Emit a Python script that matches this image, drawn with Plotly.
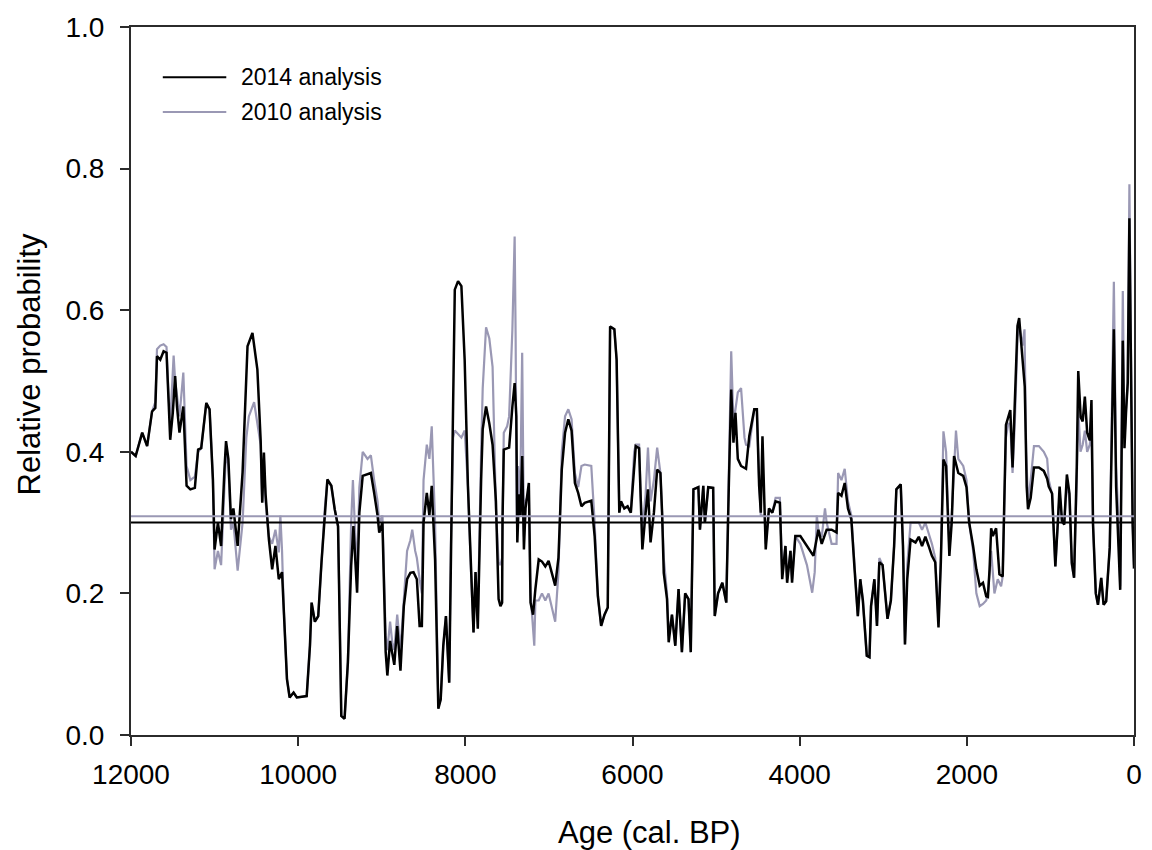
import plotly.graph_objects as go

# Relative probability through time (cal. BP), 2014 re-analysis vs 2010 analysis
age_2014 = [12000, 11944, 11866, 11807, 11748, 11709, 11689, 11650, 11610, 11575, 11551, 11531, 11500, 11472, 11450, 11420, 11374, 11350, 11335, 11290, 11236, 11197, 11160, 11099, 11060, 11020, 11000, 10960, 10922, 10882, 10863, 10835, 10804, 10775, 10724, 10665, 10606, 10547, 10527, 10488, 10449, 10430, 10410, 10390, 10350, 10311, 10272, 10232, 10193, 10173, 10134, 10102, 10055, 10016, 9898, 9859, 9839, 9800, 9760, 9721, 9681, 9650, 9603, 9563, 9523, 9504, 9484, 9445, 9405, 9366, 9339, 9295, 9268, 9228, 9170, 9130, 9091, 9050, 9030, 8992, 8953, 8933, 8900, 8874, 8850, 8815, 8776, 8736, 8697, 8658, 8620, 8580, 8547, 8520, 8500, 8461, 8430, 8402, 8362, 8323, 8295, 8264, 8232, 8193, 8173, 8146, 8126, 8087, 8047, 8008, 7969, 7929, 7902, 7878, 7851, 7811, 7792, 7752, 7713, 7674, 7634, 7602, 7580, 7560, 7555, 7540, 7476, 7437, 7410, 7390, 7378, 7358, 7339, 7320, 7299, 7280, 7240, 7220, 7190, 7162, 7122, 7083, 7043, 7004, 6965, 6925, 6886, 6846, 6807, 6768, 6729, 6689, 6650, 6611, 6572, 6493, 6453, 6414, 6375, 6335, 6296, 6268, 6217, 6190, 6158, 6138, 6098, 6059, 6020, 5980, 5961, 5921, 5902, 5882, 5843, 5815, 5784, 5744, 5705, 5666, 5646, 5626, 5587, 5567, 5528, 5488, 5449, 5409, 5370, 5330, 5303, 5271, 5212, 5193, 5153, 5134, 5094, 5035, 5016, 4976, 4925, 4878, 4846, 4819, 4792, 4768, 4740, 4701, 4642, 4603, 4543, 4512, 4485, 4465, 4445, 4418, 4406, 4367, 4327, 4288, 4237, 4209, 4170, 4150, 4110, 4091, 4052, 3992, 3913, 3835, 3776, 3736, 3677, 3618, 3559, 3540, 3500, 3461, 3422, 3382, 3343, 3304, 3275, 3244, 3197, 3165, 3146, 3106, 3075, 3047, 3008, 2949, 2909, 2870, 2843, 2791, 2764, 2740, 2713, 2673, 2614, 2575, 2536, 2496, 2457, 2418, 2378, 2339, 2311, 2280, 2248, 2209, 2181, 2153, 2102, 2043, 2004, 1972, 1925, 1886, 1846, 1807, 1768, 1748, 1728, 1709, 1689, 1650, 1610, 1571, 1532, 1504, 1480, 1453, 1426, 1394, 1374, 1335, 1307, 1284, 1268, 1236, 1197, 1138, 1079, 1039, 1020, 980, 941, 913, 890, 862, 835, 803, 772, 744, 717, 685, 667, 638, 614, 588, 560, 529, 509, 490, 457, 431, 392, 364, 333, 290, 262, 241, 214, 195, 165, 134, 114, 94, 75, 55, 35, 16, 0]
prob_2014 = [0.400, 0.394, 0.427, 0.408, 0.457, 0.462, 0.535, 0.530, 0.542, 0.540, 0.474, 0.417, 0.455, 0.507, 0.464, 0.427, 0.464, 0.399, 0.352, 0.347, 0.349, 0.403, 0.405, 0.469, 0.460, 0.361, 0.262, 0.300, 0.267, 0.375, 0.415, 0.390, 0.305, 0.320, 0.267, 0.371, 0.549, 0.568, 0.549, 0.516, 0.417, 0.328, 0.399, 0.340, 0.276, 0.234, 0.267, 0.220, 0.230, 0.173, 0.079, 0.053, 0.060, 0.053, 0.055, 0.126, 0.187, 0.160, 0.168, 0.244, 0.314, 0.361, 0.352, 0.319, 0.295, 0.173, 0.027, 0.023, 0.103, 0.239, 0.295, 0.201, 0.314, 0.366, 0.368, 0.370, 0.342, 0.310, 0.286, 0.300, 0.117, 0.084, 0.133, 0.113, 0.099, 0.154, 0.091, 0.182, 0.220, 0.229, 0.230, 0.220, 0.154, 0.154, 0.300, 0.342, 0.310, 0.352, 0.248, 0.037, 0.050, 0.126, 0.168, 0.074, 0.267, 0.469, 0.629, 0.641, 0.634, 0.530, 0.352, 0.220, 0.145, 0.230, 0.150, 0.361, 0.432, 0.464, 0.440, 0.410, 0.330, 0.192, 0.182, 0.187, 0.305, 0.403, 0.406, 0.464, 0.497, 0.450, 0.272, 0.340, 0.310, 0.394, 0.262, 0.320, 0.356, 0.187, 0.170, 0.206, 0.248, 0.245, 0.238, 0.246, 0.230, 0.211, 0.250, 0.375, 0.427, 0.446, 0.430, 0.356, 0.342, 0.323, 0.328, 0.331, 0.281, 0.196, 0.154, 0.170, 0.180, 0.577, 0.573, 0.530, 0.314, 0.330, 0.320, 0.323, 0.314, 0.380, 0.408, 0.405, 0.338, 0.262, 0.314, 0.347, 0.272, 0.314, 0.375, 0.370, 0.314, 0.229, 0.192, 0.131, 0.170, 0.126, 0.206, 0.117, 0.200, 0.192, 0.117, 0.347, 0.350, 0.290, 0.352, 0.300, 0.350, 0.349, 0.168, 0.200, 0.215, 0.187, 0.361, 0.488, 0.413, 0.455, 0.390, 0.380, 0.376, 0.422, 0.460, 0.460, 0.352, 0.314, 0.422, 0.314, 0.262, 0.320, 0.314, 0.330, 0.328, 0.220, 0.267, 0.215, 0.260, 0.215, 0.281, 0.281, 0.267, 0.253, 0.290, 0.270, 0.290, 0.290, 0.286, 0.342, 0.338, 0.356, 0.320, 0.305, 0.234, 0.168, 0.220, 0.190, 0.112, 0.110, 0.182, 0.220, 0.154, 0.244, 0.240, 0.164, 0.190, 0.267, 0.347, 0.354, 0.267, 0.128, 0.220, 0.276, 0.272, 0.280, 0.267, 0.280, 0.267, 0.253, 0.244, 0.152, 0.244, 0.389, 0.380, 0.253, 0.300, 0.394, 0.370, 0.366, 0.350, 0.300, 0.267, 0.234, 0.211, 0.215, 0.196, 0.195, 0.234, 0.292, 0.281, 0.292, 0.227, 0.224, 0.438, 0.449, 0.459, 0.378, 0.459, 0.578, 0.589, 0.535, 0.492, 0.351, 0.319, 0.335, 0.378, 0.378, 0.373, 0.362, 0.351, 0.341, 0.238, 0.297, 0.351, 0.303, 0.297, 0.368, 0.341, 0.243, 0.222, 0.378, 0.514, 0.449, 0.443, 0.478, 0.427, 0.416, 0.473, 0.297, 0.200, 0.184, 0.222, 0.184, 0.189, 0.265, 0.416, 0.573, 0.351, 0.297, 0.205, 0.557, 0.405, 0.459, 0.497, 0.730, 0.459, 0.297, 0.235]

age_2010 = [12000, 11944, 11866, 11807, 11748, 11709, 11689, 11650, 11610, 11575, 11551, 11531, 11490, 11472, 11450, 11420, 11374, 11350, 11335, 11290, 11236, 11197, 11160, 11099, 11060, 11020, 11000, 10960, 10922, 10882, 10863, 10835, 10804, 10775, 10724, 10665, 10620, 10590, 10560, 10527, 10488, 10449, 10430, 10410, 10390, 10350, 10311, 10272, 10232, 10213, 10193, 10173, 10134, 10102, 10055, 10016, 9898, 9859, 9839, 9800, 9760, 9721, 9681, 9650, 9603, 9563, 9523, 9504, 9484, 9445, 9405, 9366, 9345, 9320, 9295, 9268, 9228, 9170, 9130, 9091, 9050, 9030, 8992, 8953, 8933, 8900, 8874, 8850, 8815, 8776, 8736, 8697, 8658, 8635, 8600, 8580, 8547, 8520, 8500, 8461, 8430, 8402, 8362, 8323, 8295, 8264, 8232, 8193, 8173, 8146, 8126, 8087, 8047, 8008, 7969, 7929, 7902, 7878, 7851, 7811, 7792, 7752, 7713, 7674, 7634, 7602, 7580, 7560, 7555, 7540, 7500, 7476, 7437, 7410, 7398, 7385, 7370, 7345, 7320, 7299, 7280, 7240, 7220, 7190, 7175, 7162, 7122, 7083, 7043, 7004, 6965, 6925, 6886, 6846, 6807, 6768, 6729, 6689, 6650, 6611, 6572, 6493, 6453, 6414, 6375, 6335, 6296, 6268, 6217, 6190, 6158, 6138, 6098, 6059, 6020, 5980, 5961, 5921, 5902, 5882, 5843, 5815, 5784, 5744, 5705, 5666, 5646, 5626, 5587, 5567, 5528, 5488, 5449, 5409, 5370, 5330, 5303, 5271, 5212, 5193, 5153, 5134, 5094, 5035, 5016, 4976, 4925, 4878, 4846, 4819, 4792, 4768, 4740, 4701, 4660, 4642, 4603, 4543, 4512, 4485, 4465, 4445, 4418, 4406, 4367, 4327, 4288, 4237, 4209, 4170, 4150, 4110, 4091, 4052, 3992, 3913, 3870, 3850, 3820, 3795, 3776, 3736, 3697, 3677, 3618, 3559, 3540, 3500, 3461, 3422, 3382, 3343, 3304, 3275, 3244, 3197, 3165, 3146, 3106, 3075, 3047, 3008, 2949, 2909, 2870, 2843, 2791, 2764, 2740, 2713, 2673, 2614, 2575, 2536, 2496, 2457, 2418, 2378, 2339, 2311, 2280, 2248, 2209, 2181, 2130, 2102, 2043, 2004, 1972, 1925, 1886, 1846, 1807, 1768, 1748, 1728, 1709, 1670, 1630, 1590, 1571, 1532, 1504, 1480, 1453, 1426, 1394, 1374, 1335, 1310, 1290, 1268, 1236, 1197, 1138, 1079, 1039, 1020, 980, 941, 913, 890, 862, 835, 803, 772, 744, 717, 685, 667, 640, 614, 588, 560, 529, 509, 490, 457, 431, 392, 364, 333, 290, 262, 241, 214, 195, 165, 134, 114, 94, 75, 55, 35, 16, 0]
prob_2010 = [0.400, 0.394, 0.427, 0.408, 0.457, 0.470, 0.545, 0.550, 0.552, 0.548, 0.480, 0.440, 0.536, 0.500, 0.480, 0.450, 0.512, 0.420, 0.380, 0.360, 0.365, 0.400, 0.405, 0.469, 0.460, 0.361, 0.234, 0.260, 0.240, 0.350, 0.400, 0.380, 0.290, 0.300, 0.232, 0.300, 0.420, 0.450, 0.460, 0.470, 0.440, 0.410, 0.330, 0.390, 0.330, 0.280, 0.270, 0.290, 0.258, 0.310, 0.260, 0.180, 0.079, 0.053, 0.060, 0.053, 0.055, 0.126, 0.187, 0.160, 0.168, 0.250, 0.320, 0.360, 0.352, 0.319, 0.295, 0.173, 0.027, 0.023, 0.103, 0.300, 0.360, 0.290, 0.230, 0.350, 0.400, 0.390, 0.395, 0.360, 0.330, 0.300, 0.310, 0.140, 0.120, 0.160, 0.130, 0.120, 0.170, 0.120, 0.200, 0.260, 0.275, 0.290, 0.260, 0.250, 0.220, 0.200, 0.360, 0.410, 0.390, 0.436, 0.300, 0.040, 0.050, 0.126, 0.168, 0.074, 0.267, 0.420, 0.430, 0.425, 0.420, 0.430, 0.352, 0.220, 0.145, 0.230, 0.160, 0.400, 0.490, 0.576, 0.560, 0.520, 0.320, 0.244, 0.240, 0.250, 0.330, 0.427, 0.436, 0.450, 0.573, 0.704, 0.560, 0.300, 0.380, 0.330, 0.540, 0.280, 0.330, 0.340, 0.200, 0.150, 0.126, 0.190, 0.190, 0.200, 0.190, 0.200, 0.180, 0.160, 0.230, 0.400, 0.450, 0.460, 0.446, 0.370, 0.350, 0.380, 0.382, 0.380, 0.300, 0.196, 0.154, 0.170, 0.180, 0.577, 0.573, 0.530, 0.314, 0.330, 0.320, 0.323, 0.314, 0.400, 0.410, 0.410, 0.338, 0.290, 0.340, 0.406, 0.330, 0.360, 0.406, 0.370, 0.314, 0.250, 0.200, 0.140, 0.170, 0.126, 0.206, 0.117, 0.200, 0.192, 0.117, 0.347, 0.350, 0.290, 0.352, 0.300, 0.350, 0.349, 0.168, 0.200, 0.215, 0.187, 0.380, 0.542, 0.440, 0.460, 0.484, 0.490, 0.420, 0.410, 0.408, 0.460, 0.460, 0.360, 0.310, 0.310, 0.310, 0.270, 0.320, 0.314, 0.335, 0.335, 0.230, 0.267, 0.220, 0.260, 0.220, 0.281, 0.270, 0.240, 0.210, 0.201, 0.230, 0.310, 0.290, 0.280, 0.320, 0.300, 0.270, 0.270, 0.370, 0.360, 0.376, 0.330, 0.310, 0.234, 0.168, 0.220, 0.190, 0.112, 0.110, 0.182, 0.220, 0.154, 0.250, 0.240, 0.164, 0.190, 0.267, 0.347, 0.354, 0.267, 0.128, 0.240, 0.300, 0.300, 0.300, 0.290, 0.300, 0.285, 0.270, 0.250, 0.160, 0.250, 0.429, 0.400, 0.260, 0.310, 0.430, 0.390, 0.380, 0.360, 0.300, 0.260, 0.200, 0.182, 0.185, 0.190, 0.200, 0.230, 0.260, 0.200, 0.220, 0.210, 0.224, 0.420, 0.440, 0.440, 0.370, 0.440, 0.560, 0.580, 0.550, 0.573, 0.400, 0.330, 0.360, 0.408, 0.408, 0.400, 0.390, 0.360, 0.340, 0.238, 0.297, 0.340, 0.300, 0.300, 0.360, 0.330, 0.240, 0.222, 0.360, 0.460, 0.400, 0.410, 0.430, 0.400, 0.410, 0.430, 0.297, 0.200, 0.184, 0.222, 0.184, 0.189, 0.265, 0.450, 0.640, 0.380, 0.330, 0.210, 0.627, 0.420, 0.470, 0.500, 0.778, 0.470, 0.300, 0.240]

# Mean relative probability of each analysis
mean_2014 = 0.300
mean_2010 = 0.309

series_names = ["2014 analysis", "2010 analysis"]
x_ticks = [12000, 10000, 8000, 6000, 4000, 2000, 0]
x_tick_text = ["12000", "10000", "8000", "6000", "4000", "2000", "0"]
y_ticks = [0.0, 0.2, 0.4, 0.6, 0.8, 1.0]

BLACK = "#000000"
GREY = "#9a98b4"
AXIS = "#2b2b2b"
FONT = "Liberation Sans, Arial, Helvetica, sans-serif"

fig = go.Figure()

fig.add_trace(go.Scatter(
    x=age_2010, y=prob_2010, mode="lines", name=series_names[1],
    line=dict(color=GREY, width=2.2), showlegend=False,
))
fig.add_trace(go.Scatter(
    x=age_2014, y=prob_2014, mode="lines", name=series_names[0],
    line=dict(color=BLACK, width=2.5), showlegend=False,
))

# mean lines across the full record
fig.add_shape(type="line", xref="paper", x0=0, x1=1, yref="y", y0=mean_2010, y1=mean_2010,
              line=dict(color=GREY, width=2))
fig.add_shape(type="line", xref="paper", x0=0, x1=1, yref="y", y0=mean_2014, y1=mean_2014,
              line=dict(color=BLACK, width=2))

# key in the upper-left corner
legend_rows = [(series_names[0], BLACK, 0.929), (series_names[1], GREY, 0.880)]
for label, colour, ypos in legend_rows:
    fig.add_shape(type="line", xref="paper", yref="paper",
                  x0=0.0317, x1=0.0950, y0=ypos, y1=ypos,
                  line=dict(color=colour, width=2))
    fig.add_annotation(xref="paper", yref="paper", x=0.1078, y=ypos,
                       text=label, showarrow=False, xanchor="left", yanchor="middle",
                       font=dict(family=FONT, size=23, color="#000"))

fig.add_annotation(xref="paper", yref="paper", x=0.517, y=-0.138,
                   text="Age (cal. BP)", showarrow=False, xanchor="center", yanchor="middle",
                   font=dict(family=FONT, size=31, color="#000"))
fig.add_annotation(xref="paper", yref="paper", x=-0.101, y=0.523,
                   text="Relative probability", showarrow=False, textangle=-90,
                   xanchor="center", yanchor="middle",
                   font=dict(family=FONT, size=31, color="#000"))

fig.update_layout(
    width=1152, height=850,
    margin=dict(l=131, r=10, t=27, b=115),
    paper_bgcolor="white", plot_bgcolor="white",
    font=dict(family=FONT, size=28, color="#000"),
    showlegend=False,
)
fig.update_xaxes(
    range=[12000, 0], tickmode="array", tickvals=x_ticks, ticktext=x_tick_text,
    ticks="outside", ticklen=9, tickwidth=2, tickcolor=AXIS,
    showline=True, linecolor=AXIS, linewidth=2, mirror=True,
    showgrid=False, zeroline=False, ticklabelstandoff=4,
    tickfont=dict(family=FONT, size=28, color="#000"),
)
fig.update_yaxes(
    range=[0, 1.0], tickmode="array", tickvals=y_ticks, tickformat=".1f",
    ticks="outside", ticklen=9, tickwidth=2, tickcolor=AXIS,
    showline=True, linecolor=AXIS, linewidth=2, mirror=True,
    showgrid=False, zeroline=False, ticklabelstandoff=10,
    tickfont=dict(family=FONT, size=28, color="#000"),
)

fig.write_html("out.html")
